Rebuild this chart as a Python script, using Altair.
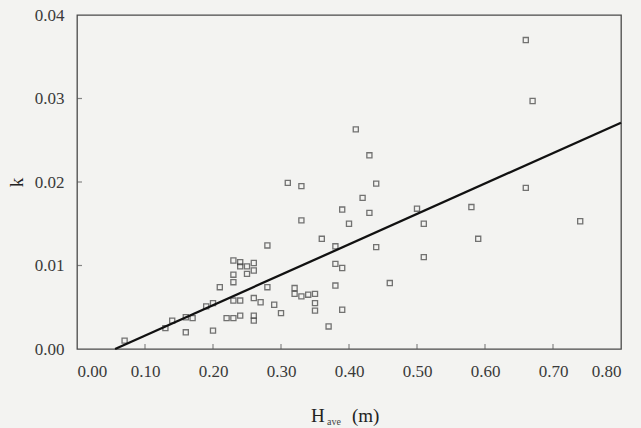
import altair as alt
import pandas as pd

# Scatter data
h_ave = [0.07, 0.13, 0.14, 0.16, 0.16, 0.17, 0.19, 0.20, 0.20, 0.21, 0.22,
         0.23, 0.23, 0.23, 0.23, 0.23, 0.24, 0.24, 0.24, 0.24, 0.25, 0.25,
         0.26, 0.26, 0.26, 0.26, 0.26, 0.27, 0.28, 0.28, 0.29, 0.30, 0.32,
         0.32, 0.31, 0.33, 0.33, 0.33, 0.34, 0.35, 0.35, 0.35, 0.36, 0.37,
         0.38, 0.38, 0.38, 0.39, 0.39, 0.39, 0.40, 0.41, 0.42, 0.43, 0.43,
         0.44, 0.44, 0.46, 0.50, 0.51, 0.51, 0.58, 0.59, 0.66, 0.67, 0.66,
         0.74]
k_vals = [0.0010, 0.0025, 0.0034, 0.0038, 0.0020, 0.0037, 0.0051, 0.0055,
          0.0022, 0.0074, 0.0037, 0.0106, 0.0089, 0.0080, 0.0058, 0.0037,
          0.0104, 0.0099, 0.0058, 0.0040, 0.0099, 0.0090, 0.0103, 0.0094,
          0.0061, 0.0040, 0.0034, 0.0056, 0.0124, 0.0074, 0.0053, 0.0043,
          0.0073, 0.0066, 0.0199, 0.0195, 0.0154, 0.0063, 0.0065, 0.0066,
          0.0055, 0.0046, 0.0132, 0.0027, 0.0123, 0.0102, 0.0076, 0.0167,
          0.0097, 0.0047, 0.0150, 0.0263, 0.0181, 0.0232, 0.0163, 0.0198,
          0.0122, 0.0079, 0.0168, 0.0150, 0.0110, 0.0170, 0.0132, 0.0370,
          0.0297, 0.0193, 0.0153]

# Regression line endpoints
fit_x = [0.056, 0.80]
fit_k = [0.0, 0.0271]

# Axis ticks
x_ticks = [0.0, 0.1, 0.2, 0.3, 0.4, 0.5, 0.6, 0.7, 0.8]
y_ticks = [0.0, 0.01, 0.02, 0.03, 0.04]
x_inner_ticks = [0.1, 0.2, 0.3, 0.4, 0.5, 0.6, 0.7]
y_inner_ticks = [0.01, 0.02, 0.03]

FONT = "Liberation Serif"
INK = "#3a3a3a"

pts = pd.DataFrame({"h": h_ave, "k": k_vals})
fit = pd.DataFrame({"h": fit_x, "k": fit_k})
xt = pd.DataFrame({"h": x_inner_ticks})
yt = pd.DataFrame({"k": y_inner_ticks})

xscale = alt.Scale(domain=[0, 0.8], nice=False, zero=False)
yscale = alt.Scale(domain=[0, 0.04], nice=False, zero=False)

xaxis = alt.Axis(values=x_ticks, format=".2f", ticks=False, grid=False,
                 domain=False, labelPadding=14, labelFontSize=17,
                 labelFont=FONT, labelColor=INK, title=None)
yaxis = alt.Axis(values=y_ticks, format=".2f", ticks=False, grid=False,
                 domain=False, labelPadding=13, labelFontSize=17,
                 labelFont=FONT, labelColor=INK, title="k",
                 titleFont=FONT, titleFontSize=19, titleFontWeight="normal",
                 titleColor="#222", titlePadding=8)

points = alt.Chart(pts).mark_point(
    shape="square", filled=False, size=26, strokeWidth=1.3, color="#3c3c3c"
).encode(
    x=alt.X("h:Q", scale=xscale, axis=xaxis),
    y=alt.Y("k:Q", scale=yscale, axis=yaxis),
)

line = alt.Chart(fit).mark_line(color="#111", strokeWidth=2.3).encode(
    x=alt.X("h:Q", scale=xscale),
    y=alt.Y("k:Q", scale=yscale),
)

xticks_layer = alt.Chart(xt).mark_tick(
    orient="vertical", size=5, thickness=1.2, color="#555", yOffset=-2.5
).encode(
    x=alt.X("h:Q", scale=xscale),
    y=alt.value(334),
)

yticks_layer = alt.Chart(yt).mark_tick(
    orient="horizontal", size=5, thickness=1.2, color="#555", xOffset=2.5
).encode(
    y=alt.Y("k:Q", scale=yscale),
    x=alt.value(0),
)

title_df = pd.DataFrame({"t": ["H"]})
t_h = alt.Chart(title_df).mark_text(
    font=FONT, fontSize=19, color="#222", align="left", baseline="alphabetic"
).encode(text="t:N", x=alt.value(234), y=alt.value(407))
sub_df = pd.DataFrame({"t": ["ave"]})
t_sub = alt.Chart(sub_df).mark_text(
    font=FONT, fontSize=10, color="#444", align="left", baseline="alphabetic"
).encode(text="t:N", x=alt.value(250), y=alt.value(410))
unit_df = pd.DataFrame({"t": ["(m)"]})
t_unit = alt.Chart(unit_df).mark_text(
    font=FONT, fontSize=19, color="#222", align="left", baseline="alphabetic"
).encode(text="t:N", x=alt.value(275), y=alt.value(407))

chart = alt.layer(
    points, line, xticks_layer, yticks_layer, t_h, t_sub, t_unit
).properties(
    width=544, height=334,
    autosize=alt.AutoSizeParams(type="none"),
    padding={"left": 77, "top": 15, "right": 20, "bottom": 79},
    background="#f3f3f1",
).configure_view(stroke="#4a4a4a", strokeWidth=1.3)

chart.save("out.html", embed_options={"renderer": "svg", "actions": False})
